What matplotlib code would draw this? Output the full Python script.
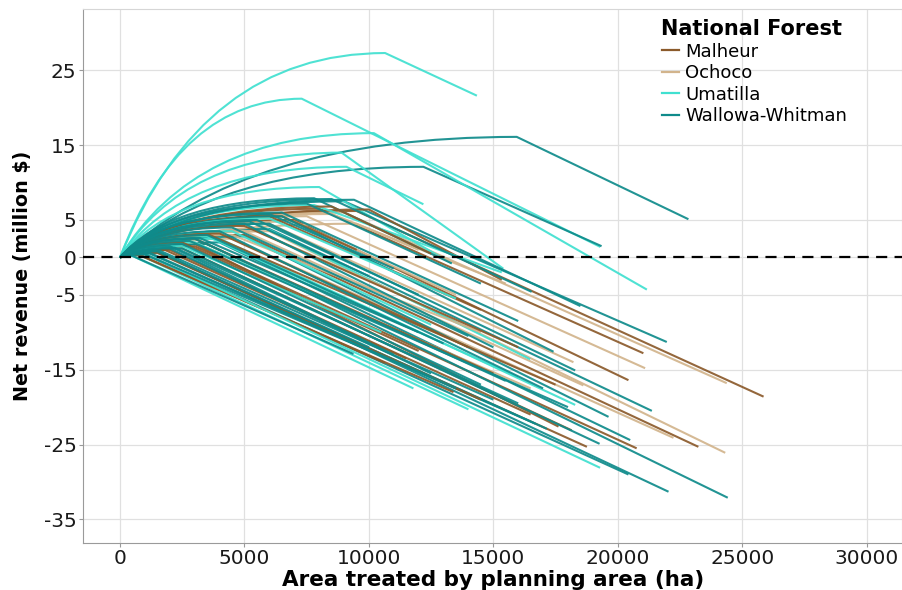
import matplotlib
matplotlib.use("Agg")
import matplotlib.pyplot as plt
from matplotlib.path import Path
from matplotlib.patches import PathPatch
from matplotlib.lines import Line2D

# net revenue curves per planning area
# each curve: (control x, peak x, peak revenue, end x, end revenue)
# x in ha treated, revenue in million $; every curve starts at (0, 0)
malheur = [
    (2000, 8000, 6.5, 21030, -12.8),
    (2400, 9500, 6.2, 25860, -18.6),
    (1750, 7000, 5.0, 20430, -16.4),
    (1250, 5000, 3.0, 23240, -25.3),
    (750, 3000, 1.5, 20760, -25.5),
    (380, 1500, 0.6, 18760, -25.3),
    (620, 2500, 1.2, 18150, -23.1),
    (750, 3000, 1.8, 17620, -22.6),
    (200, 800, 0.3, 13400, -18.0),
    (200, 800, 0.3, 10650, -14.1),
    (2500, 10000, 6.4, 15340, -3.0),
    (1600, 6500, 5.5, 9510, 1.0),
    (1500, 6000, 5.5, 14500, -7.0),
    (1000, 4000, 3.2, 14000, -12.0),
    (620, 2500, 2.0, 12000, -12.5),
    (1250, 5000, 4.2, 16000, -12.0),
    (750, 3000, 2.5, 15000, -15.5),
    (2100, 8500, 6.8, 12500, 0.5),
    (450, 1800, 1.0, 11500, -13.5),
    (900, 3600, 3.0, 17500, -17.0),
    (400, 1500, 0.7, 14500, -19.0),
    (500, 2000, 1.0, 16500, -21.0),
]

ochoco = [
    (1900, 7500, 5.5, 21100, -14.8),
    (2250, 9000, 6.0, 24380, -16.8),
    (1100, 4500, 2.5, 22240, -24.1),
    (1500, 6000, 3.5, 24320, -26.1),
    (1500, 6000, 4.5, 18220, -14.0),
    (1250, 5000, 3.5, 18620, -17.1),
    (2100, 8500, 5.8, 15500, -3.5),
    (1750, 7000, 4.8, 13500, -5.0),
    (1100, 4500, 3.0, 14500, -10.0),
    (750, 3000, 2.0, 16500, -17.5),
    (2400, 9500, 4.5, 12000, 1.0),
    (1400, 5500, 3.5, 11000, -4.5),
]

umatilla = [
    (3300, 10650, 27.3, 14340, 21.6),
    (2400, 7300, 21.2, 19300, 1.4),
    (3000, 10200, 16.6, 21170, -4.3),
    (2600, 8900, 14.0, 15400, -1.5),
    (2600, 9100, 12.1, 12190, 7.1),
    (2200, 8000, 9.4, 13330, -0.8),
    (1400, 5500, 4.5, 16480, -13.6),
    (200, 800, 0.3, 14000, -20.3),
    (1000, 4000, 2.5, 18290, -19.7),
    (250, 1000, 0.5, 19290, -28.1),
    (120, 500, 0.2, 11790, -17.5),
    (2000, 7800, 7.0, 15340, -2.0),
    (1100, 4500, 3.5, 12500, -9.0),
    (750, 3000, 2.0, 13000, -12.5),
    (620, 2500, 1.5, 10500, -10.0),
    (900, 3500, 2.8, 16000, -16.0),
    (1500, 6000, 5.2, 13500, -5.5),
]

wallowa = [
    (5000, 15940, 16.1, 22840, 5.1),
    (3800, 12190, 12.1, 19350, 1.5),
    (2250, 9000, 7.5, 21970, -11.3),
    (1500, 6000, 3.8, 21370, -20.5),
    (1250, 5000, 2.8, 19630, -21.3),
    (1000, 4000, 2.0, 20500, -24.4),
    (250, 1000, 0.4, 20430, -29.0),
    (380, 1500, 0.8, 22040, -31.3),
    (900, 3500, 1.8, 24420, -32.1),
    (620, 2500, 1.2, 19270, -24.9),
    (380, 1500, 0.7, 17150, -22.9),
    (300, 1200, 0.5, 16680, -22.2),
    (1600, 6500, 5.5, 17420, -12.6),
    (1500, 6000, 4.5, 18290, -15.1),
    (120, 500, 0.2, 9380, -12.9),
    (2100, 8500, 7.8, 16540, -4.6),
    (2000, 7800, 7.9, 13330, -0.8),
    (1400, 5500, 5.0, 12000, -5.0),
    (1100, 4500, 4.0, 14000, -10.5),
    (900, 3500, 3.0, 13000, -11.5),
    (750, 3000, 2.5, 15500, -16.5),
    (620, 2500, 1.8, 14500, -17.0),
    (500, 2000, 1.2, 12500, -15.5),
    (1250, 5000, 4.5, 15000, -12.0),
    (1600, 6500, 6.0, 16000, -8.5),
    (1900, 7500, 7.2, 14500, -3.5),
    (1000, 4000, 3.5, 17000, -17.5),
    (700, 2800, 2.2, 18000, -20.0),
    (800, 3200, 2.6, 12000, -10.0),
    (1500, 6000, 5.8, 11000, -1.5),
    (1300, 5200, 4.8, 10000, -2.5),
    (380, 1500, 0.8, 10000, -12.0),
    (500, 2000, 1.5, 11000, -13.0),
    (2350, 9400, 7.7, 18500, -6.5),
    (300, 1200, 0.6, 13500, -17.5),
    (400, 1600, 0.9, 15000, -19.0),
    (600, 2200, 1.3, 16000, -19.5),
    (250, 1000, 0.4, 12500, -16.0),
]

forest_names = ["Malheur", "Ochoco", "Umatilla", "Wallowa-Whitman"]
forest_curves = [malheur, ochoco, umatilla, wallowa]
forest_colors = ["#8b5a2b", "#d2b48c", "#40e0d0", "#0f8b8b"]

x_ticks = [0, 5000, 10000, 15000, 20000, 25000, 30000]
y_ticks = [-35, -25, -15, -5, 0, 5, 15, 25]


def curve_path(cx, px, py, ex, ey):
    # rise to the peak, then a straight decline to the last option
    verts = [(0, 0), (cx, py), (px, py), (ex, ey)]
    codes = [Path.MOVETO, Path.CURVE3, Path.CURVE3, Path.LINETO]
    return Path(verts, codes)


fig = plt.figure(figsize=(9.03, 5.90), dpi=100)
ax = fig.add_axes([0.0916, 0.079, 0.9075, 0.906])

# interleave the forests so no colour sits entirely on top
n_max = max(len(c) for c in forest_curves)
for i in range(n_max):
    for curves, col in zip(forest_curves, forest_colors):
        if i < len(curves):
            patch = PathPatch(curve_path(*curves[i]), facecolor="none",
                              edgecolor=col, lw=1.5, alpha=0.92,
                              joinstyle="round", capstyle="butt")
            ax.add_patch(patch)

ax.axhline(0, color="black", lw=1.6, linestyle=(0, (5, 3.3)), zorder=5)

ax.set_xlim(-1500, 31430)
ax.set_ylim(-38.2, 33.2)
ax.set_xticks(x_ticks)
ax.set_yticks(y_ticks)
ax.set_xticklabels([str(v) for v in x_ticks])
ax.set_yticklabels([str(v) for v in y_ticks])
ax.tick_params(labelsize=14.5, length=3, width=0.8, color="#9a9a9a",
               labelcolor="#1a1a1a", pad=1.5)
ax.tick_params(axis="x", pad=1)

ax.grid(True, color="#e0e0e0", lw=0.9)
ax.set_axisbelow(True)
for side in ["left", "bottom"]:
    ax.spines[side].set_color("#9a9a9a")
for side in ["top", "right"]:
    ax.spines[side].set_color("#d6d6d6")

ax.set_xlabel("Area treated by planning area (ha)", fontsize=15.5,
              fontweight="bold", va="center")
ax.xaxis.set_label_coords(0.501, -0.068)
ax.set_ylabel("Net revenue (million $)", fontsize=13.8,
              fontweight="bold", va="center")
ax.yaxis.set_label_coords(-0.073, 0.5)

# legend, drawn by hand to get the tight rows of the original
ax.text(0.706, 0.9514, "National Forest", transform=ax.transAxes,
        fontsize=15, fontweight="bold", ha="left", va="baseline")
row_step = 0.0402
for k, (name, col) in enumerate(zip(forest_names, forest_colors)):
    y_txt = 0.9102 - k * row_step
    y_line = 0.9224 - k * row_step
    ax.add_line(Line2D([0.7071, 0.7279], [y_line, y_line],
                       transform=ax.transAxes, color=col, lw=1.6))
    ax.text(0.735, y_txt, name, transform=ax.transAxes, fontsize=13,
            ha="left", va="baseline")

fig.savefig("out.png", dpi=100)
